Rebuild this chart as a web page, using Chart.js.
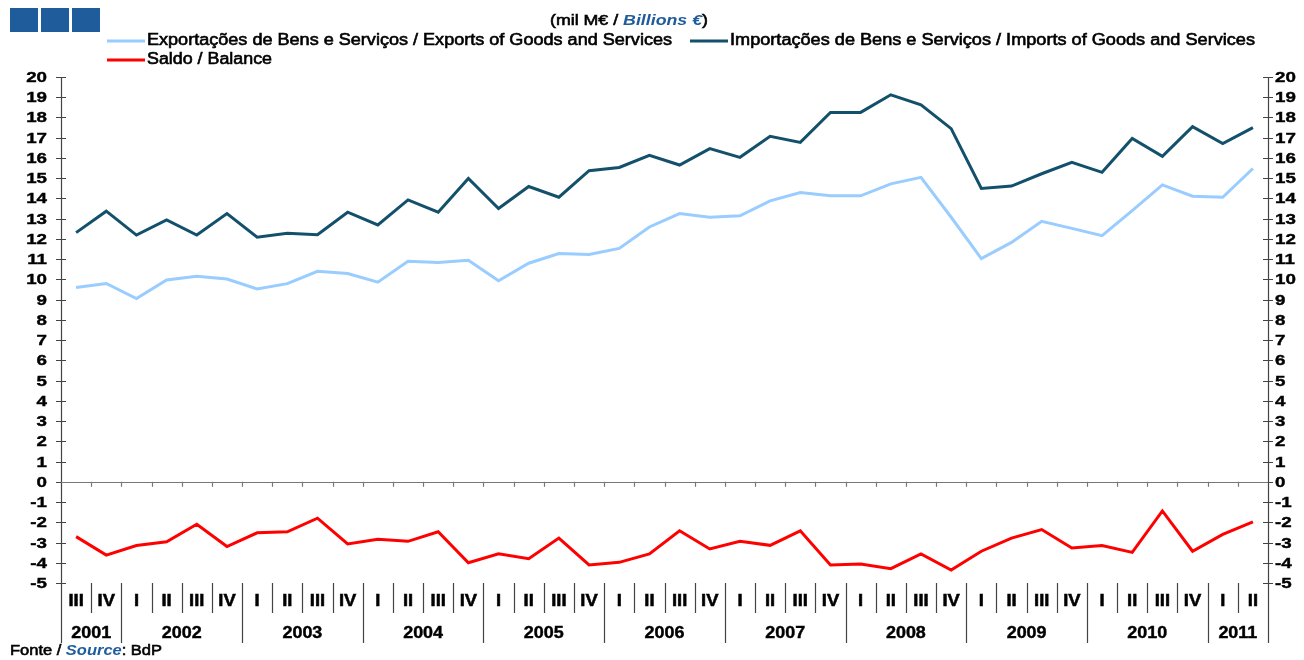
<!DOCTYPE html>
<html>
<head>
<meta charset="utf-8">
<script src="https://cdn.jsdelivr.net/npm/chart.js@4"></script>
<style>
  html, body { margin: 0; padding: 0; background: #fff; }
  canvas { display: block; }
</style>
</head>
<body>
<canvas id="grafico" width="1304" height="660"></canvas>
<script>
// anos e número de trimestres de cada ano no gráfico
const anos = ['2001', '2002', '2003', '2004', '2005', '2006', '2007', '2008', '2009', '2010', '2011'];
const trimestresPorAno = [2, 4, 4, 4, 4, 4, 4, 4, 4, 4, 2];
const primeiroTrimestre = 3; // 2001 começa no III
const romanos = ['I', 'II', 'III', 'IV'];

// valores em mil M€
const exportacoes = [9.6, 9.8, 9.05, 9.97, 10.16, 10.02, 9.53, 9.79, 10.4, 10.29,
  9.86, 10.9, 10.83, 10.95, 9.93, 10.8, 11.28, 11.23, 11.53, 12.59,
  13.25, 13.07, 13.14, 13.88, 14.29, 14.13, 14.13, 14.72, 15.04, 13.07,
  11.03, 11.83, 12.87, 12.52, 12.16, 13.4, 14.67, 14.11, 14.06, 15.48];
const importacoes = [12.31, 13.37, 12.19, 12.94, 12.19, 13.25, 12.08, 12.28, 12.21, 13.32,
  12.69, 13.93, 13.32, 14.99, 13.5, 14.59, 14.06, 15.37, 15.53, 16.13,
  15.65, 16.46, 16.03, 17.07, 16.77, 18.25, 18.25, 19.12, 18.63, 17.45,
  14.49, 14.61, 15.22, 15.78, 15.29, 16.96, 16.08, 17.55, 16.71, 17.5];
const saldo = [-2.71, -3.62, -3.15, -2.96, -2.1, -3.2, -2.52, -2.47, -1.8, -3.07,
  -2.84, -2.94, -2.47, -4.0, -3.56, -3.8, -2.78, -4.11, -3.98, -3.56,
  -2.42, -3.32, -2.94, -3.14, -2.42, -4.11, -4.06, -4.29, -3.56, -4.36,
  -3.43, -2.78, -2.36, -3.27, -3.15, -3.49, -1.44, -3.43, -2.6, -1.98];

const yMin = -5, yMax = 20;

const corExp = '#99ccff';
const corImp = '#13506b';
const corSaldo = '#ff0000';
const azulTexto = '#1f5c9c';
const fonte = '"Liberation Sans", Arial, sans-serif';

// rótulos das categorias: trimestre e ano
const rotTrimestre = [];
const rotAno = [];
anos.forEach((ano, i) => {
  const inicio = i === 0 ? primeiroTrimestre - 1 : 0;
  for (let k = 0; k < trimestresPorAno[i]; k++) {
    rotTrimestre.push(romanos[inicio + k]);
    rotAno.push(ano);
  }
});
const labels = rotTrimestre.map((t, i) => rotAno[i] + ' ' + t);

// texto com escala horizontal e um traço fino para ficar mais cheio
function texto(ctx, str, x, y, font, align, cor, sx, traco) {
  ctx.save();
  ctx.font = font;
  ctx.fillStyle = cor || '#000';
  ctx.textBaseline = 'middle';
  const w = ctx.measureText(str).width * (sx || 1);
  let x0 = x;
  if (align === 'center') x0 = x - w / 2;
  if (align === 'right') x0 = x - w;
  ctx.translate(x0, y);
  ctx.scale(sx || 1, 1);
  ctx.textAlign = 'left';
  ctx.fillText(str, 0, 0);
  if (traco) {
    ctx.strokeStyle = cor || '#000';
    ctx.lineWidth = traco;
    ctx.strokeText(str, 0, 0);
  }
  ctx.restore();
  return w;
}

// desenha pedaços de texto seguidos, ajustados a uma largura
function linhaTexto(ctx, partes, x, y, largura) {
  ctx.save();
  let total = 0;
  partes.forEach(p => { ctx.font = p.font; total += ctx.measureText(p.t).width; });
  const sx = largura ? largura / total : 1;
  let cx = x;
  partes.forEach(p => {
    cx += texto(ctx, p.t, cx, y, p.font, 'left', p.cor, sx, p.traco);
  });
  ctx.restore();
}

const decoracao = {
  id: 'decoracao',
  beforeDatasetsDraw(chart) {
    const ctx = chart.ctx;
    const area = chart.chartArea;
    const xs = chart.scales.x;
    const ys = chart.scales.y;
    const n = labels.length;
    const passo = xs.getPixelForValue(1) - xs.getPixelForValue(0);
    const fronteira = i => xs.getPixelForValue(i) - passo / 2;
    const y0 = ys.getPixelForValue(0);
    const fundo = area.bottom;

    ctx.save();
    ctx.strokeStyle = '#444';
    ctx.lineWidth = 1.2;

    // eixos verticais (descem até às legendas dos anos)
    [area.left, area.right].forEach(x => {
      ctx.beginPath();
      ctx.moveTo(Math.round(x) + 0.5, area.top);
      ctx.lineTo(Math.round(x) + 0.5, fundo + 60);
      ctx.stroke();
    });

    // marcas do eixo y
    for (let v = yMin; v <= yMax; v++) {
      const y = Math.round(ys.getPixelForValue(v)) + 0.5;
      ctx.beginPath();
      ctx.moveTo(area.left - 5, y); ctx.lineTo(area.left + 5, y);
      ctx.moveTo(area.right - 5, y); ctx.lineTo(area.right + 5, y);
      ctx.stroke();
      texto(ctx, String(v), area.left - 14, y, 'bold 15px ' + fonte, 'right', '#000', 1.25, 0.4);
      texto(ctx, String(v), area.right + 7, y, 'bold 15px ' + fonte, 'left', '#000', 1.25, 0.4);
    }

    // linha do zero
    ctx.strokeStyle = '#777';
    ctx.beginPath();
    ctx.moveTo(area.left, Math.round(y0) + 0.5);
    ctx.lineTo(area.right, Math.round(y0) + 0.5);
    ctx.stroke();
    for (let i = 1; i < n; i++) {
      const x = Math.round(fronteira(i)) + 0.5;
      ctx.beginPath();
      ctx.moveTo(x, y0); ctx.lineTo(x, y0 + 5);
      ctx.stroke();
    }

    // separadores de trimestres e anos
    ctx.strokeStyle = '#444';
    for (let i = 1; i < n; i++) {
      const x = Math.round(fronteira(i)) + 0.5;
      const mudaAno = rotAno[i] !== rotAno[i - 1];
      ctx.beginPath();
      ctx.moveTo(x, fundo);
      ctx.lineTo(x, fundo + (mudaAno ? 60 : 30));
      ctx.stroke();
    }

    // rótulos
    for (let i = 0; i < n; i++) {
      texto(ctx, rotTrimestre[i], xs.getPixelForValue(i), fundo + 19,
        'bold 16px ' + fonte, 'center', '#000', 1.15, 0.5);
    }
    let inicio = 0;
    anos.forEach((ano, k) => {
      const fim = inicio + trimestresPorAno[k];
      const xc = (fronteira(inicio) + fronteira(fim)) / 2;
      texto(ctx, ano, xc, fundo + 51, 'bold 16px ' + fonte, 'center', '#000', 1.12, 0.4);
      inicio = fim;
    });
    ctx.restore();
  },
  afterDraw(chart) {
    const ctx = chart.ctx;
    ctx.save();
    // logótipo
    ctx.fillStyle = '#1f5c9c';
    [10, 41, 72].forEach(x => ctx.fillRect(x, 8, 28, 24));

    // unidade
    linhaTexto(ctx, [
      { t: '(mil M€ / ', font: '15px ' + fonte, cor: '#000', traco: 0.6 },
      { t: 'Billions €', font: 'italic bold 15px ' + fonte, cor: azulTexto },
      { t: ')', font: '15px ' + fonte, cor: '#000', traco: 0.6 }
    ], 550, 21, 158);

    // legenda
    const leg = [
      { cor: corExp, x: 107, y: 41, t: 'Exportações de Bens e Serviços / Exports of Goods and Services', w: 525 },
      { cor: corImp, x: 690, y: 41, t: 'Importações de Bens e Serviços / Imports of Goods and Services', w: 525 },
      { cor: corSaldo, x: 107, y: 60, t: 'Saldo / Balance', w: 125 }
    ];
    leg.forEach(l => {
      ctx.strokeStyle = l.cor;
      ctx.lineWidth = 3;
      ctx.beginPath();
      ctx.moveTo(l.x, l.y); ctx.lineTo(l.x + 38, l.y);
      ctx.stroke();
      linhaTexto(ctx, [{ t: l.t, font: '16px ' + fonte, cor: '#000', traco: 0.6 }], l.x + 40, l.y, l.w);
    });

    // fonte
    linhaTexto(ctx, [
      { t: 'Fonte / ', font: '15px ' + fonte, cor: '#000', traco: 0.6 },
      { t: 'Source', font: 'italic bold 15px ' + fonte, cor: azulTexto },
      { t: ': BdP', font: '15px ' + fonte, cor: '#000', traco: 0.6 }
    ], 10, 651, 152);
    ctx.restore();
  }
};

new Chart(document.getElementById('grafico'), {
  type: 'line',
  data: {
    labels: labels,
    datasets: [
      { label: 'Exportações de Bens e Serviços / Exports of Goods and Services', data: exportacoes,
        borderColor: corExp, borderWidth: 3, pointRadius: 0, tension: 0 },
      { label: 'Importações de Bens e Serviços / Imports of Goods and Services', data: importacoes,
        borderColor: corImp, borderWidth: 3, pointRadius: 0, tension: 0 },
      { label: 'Saldo / Balance', data: saldo,
        borderColor: corSaldo, borderWidth: 3, pointRadius: 0, tension: 0 }
    ]
  },
  options: {
    responsive: false,
    animation: false,
    devicePixelRatio: 1,
    layout: { padding: { left: 61, right: 36, top: 77, bottom: 77 } },
    scales: {
      x: { type: 'category', display: false, offset: true },
      y: { display: false, min: yMin, max: yMax }
    },
    plugins: {
      legend: { display: false },
      tooltip: { enabled: false }
    }
  },
  plugins: [decoracao]
});
</script>
</body>
</html>
